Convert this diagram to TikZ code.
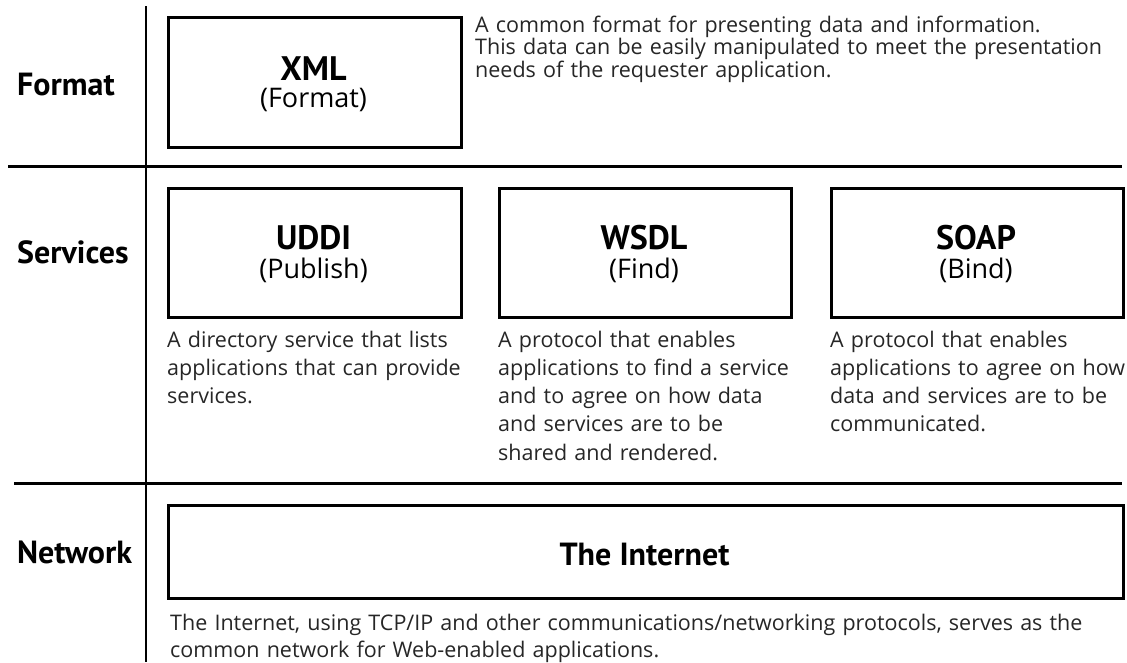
\documentclass[tikz,border=0pt]{standalone}
\usepackage{fontspec}
\setmainfont{Open Sans}
\newfontfamily\ptsans{PT Sans}
\begin{document}
\begin{tikzpicture}[x=1pt,y=-1pt,
  box/.style={draw=black, line width=3pt, inner sep=0pt, anchor=north west},
  rule/.style={line width=3pt, black},
  head/.style={font=\ptsans\bfseries\fontsize{34}{36}\selectfont, anchor=base, inner sep=0pt},
  sub/.style={font=\fontsize{27}{30}\selectfont, anchor=base, inner sep=0pt},
  lbl/.style={font=\ptsans\bfseries\fontsize{32}{34}\selectfont, anchor=base west, inner sep=0pt},
  desc/.style={font=\fontsize{21.5}{28.3}\selectfont, text=black!85, anchor=base west, inner sep=0pt, align=left, text width=640pt}
]
\useasboundingbox (0,0) rectangle (1127,662);
% rules
\coordinate (vt) at (146,6);
\coordinate (vb) at (146,662);
\coordinate (h1l) at (8,166);
\coordinate (h1r) at (1122,166);
\coordinate (h2l) at (14,483);
\coordinate (h2r) at (1122,483);
\draw[line width=2.5pt] (vt) -- (vb);
\draw[rule] (h1l) -- (h1r);
\draw[rule] (h2l) -- (h2r);
% row labels
\node[lbl] (lfmt) at (17,95) {Format};
\node[lbl] (lsrv) at (17,263) {Services};
\node[lbl] (lnet) at (17,563) {Network};
% format row
\node[box, minimum width=293pt, minimum height=130pt] (xml) at (167,16) {};
\node[head] (txml) at (313.5,80) {XML};
\node[sub] (sxml) at (313.5,107) {(Format)};
\node[desc, font=\fontsize{21.5}{22.5}\selectfont] (dxml) at (475,32) {A common format for presenting data and information.\\This data can be easily manipulated to meet the presentation\\needs of the requester application.};
% services row
\node[box, minimum width=293pt, minimum height=129pt] (uddi) at (167,187) {};
\node[head] (tuddi) at (313.5,249) {UDDI};
\node[sub] (suddi) at (313.5,278) {(Publish)};
\node[box, minimum width=292pt, minimum height=129pt] (wsdl) at (498,187) {};
\node[head] (twsdl) at (644,249) {WSDL};
\node[sub] (swsdl) at (644,278) {(Find)};
\node[box, minimum width=292pt, minimum height=129pt] (soap) at (830,187) {};
\node[head] (tsoap) at (976,249) {SOAP};
\node[sub] (ssoap) at (976,278) {(Bind)};
\node[desc, text width=300pt] (duddi) at (167,347) {A directory service that lists\\applications that can provide\\services.};
\node[desc, text width=300pt] (dwsdl) at (498,347) {A protocol that enables\\applications to find a service\\and to agree on how data\\and services are to be\\shared and rendered.};
\node[desc, text width=300pt] (dsoap) at (830,347) {A protocol that enables\\applications to agree on how\\data and services are to be\\communicated.};
% network row
\node[box, minimum width=955pt, minimum height=93pt] (net) at (167,504) {};
\node[head, font=\ptsans\bfseries\fontsize{32}{34}\selectfont] (tnet) at (644.5,565) {The Internet};
\node[desc, text width=950pt, font=\fontsize{21.5}{27}\selectfont] (dnet) at (170,630) {The Internet, using TCP/IP and other communications/networking protocols, serves as the\\common network for Web-enabled applications.};
\end{tikzpicture}
\end{document}
